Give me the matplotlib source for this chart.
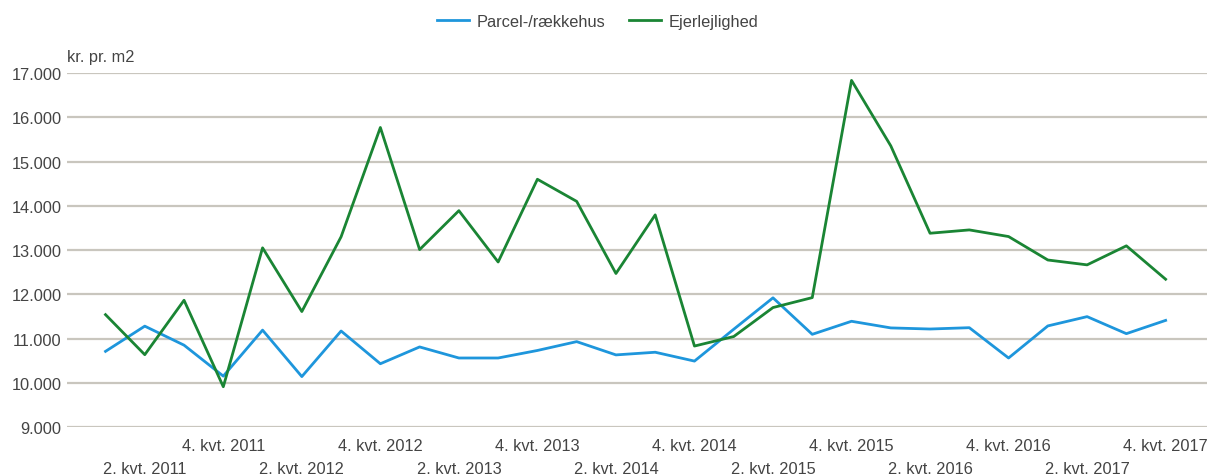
import matplotlib.pyplot as plt
from matplotlib.ticker import FuncFormatter

plt.rcParams['font.family'] = ['Liberation Sans', 'DejaVu Sans']

# kvartaler 1. kvt. 2011 .. 4. kvt. 2017
quarters = ['1. kvt. 2011', '2. kvt. 2011', '3. kvt. 2011', '4. kvt. 2011',
            '1. kvt. 2012', '2. kvt. 2012', '3. kvt. 2012', '4. kvt. 2012',
            '1. kvt. 2013', '2. kvt. 2013', '3. kvt. 2013', '4. kvt. 2013',
            '1. kvt. 2014', '2. kvt. 2014', '3. kvt. 2014', '4. kvt. 2014',
            '1. kvt. 2015', '2. kvt. 2015', '3. kvt. 2015', '4. kvt. 2015',
            '1. kvt. 2016', '2. kvt. 2016', '3. kvt. 2016', '4. kvt. 2016',
            '1. kvt. 2017', '2. kvt. 2017', '3. kvt. 2017', '4. kvt. 2017']

parcel = [10710, 11280, 10850, 10150, 11190, 10140, 11170, 10430,
          10810, 10560, 10560, 10730, 10930, 10630, 10690, 10490,
          11210, 11920, 11095, 11390, 11240, 11215, 11245, 10560,
          11285, 11495, 11110, 11410]

ejer = [11540, 10635, 11865, 9910, 13050, 11610, 13300, 15770,
        13010, 13890, 12730, 14600, 14100, 12470, 13795, 10830,
        11045, 11700, 11925, 16835, 15355, 13380, 13455, 13305,
        12775, 12665, 13095, 12340]

x = list(range(len(quarters)))
fs = 11.8
txt = '#444444'

fig = plt.figure(figsize=(12.1, 4.77), dpi=100)
ax = fig.add_axes([0.0554, 0.1027, 0.942, 0.742])

ax.plot(x, parcel, color='#1E96DC', lw=2.0, label='Parcel-/rækkehus')
ax.plot(x, ejer, color='#1A8534', lw=2.0, label='Ejerlejlighed')

ax.set_xlim(-0.98, 28.05)
ax.set_ylim(9000, 17000)
ax.set_yticks(range(9000, 17001, 1000))
ax.yaxis.set_major_formatter(FuncFormatter(lambda v, p: f'{int(v):,}'.replace(',', '.')))

# 4. kvt. paa oeverste raekke, 2. kvt. paa nederste
upper = [i for i in x if quarters[i].startswith('4.')]
lower = [i for i in x if quarters[i].startswith('2.')]
ax.set_xticks(upper)
ax.set_xticklabels([quarters[i] for i in upper])
ax.set_xticks(lower, minor=True)
ax.set_xticklabels([quarters[i] for i in lower], minor=True)
ax.tick_params(axis='x', which='major', length=0, pad=8, labelsize=fs, labelcolor=txt)
ax.tick_params(axis='x', which='minor', length=0, pad=24.5, labelsize=fs, labelcolor=txt)
ax.tick_params(axis='y', length=0, pad=4, labelsize=fs, labelcolor=txt)

ax.grid(True, axis='y', color='#C9C6BE', lw=1.6)
ax.set_axisbelow(True)
for s in ax.spines.values():
    s.set_visible(False)

ax.text(0.0, 1.025, 'kr. pr. m2', transform=ax.transAxes, fontsize=fs,
        color=txt, va='bottom', ha='left')

fig.legend(loc='upper center', bbox_to_anchor=(0.494, 1.0), ncol=2, frameon=False,
           fontsize=fs, handlelength=1.95, columnspacing=1.4, handletextpad=0.5,
           labelcolor=txt)

fig.savefig('out.png', dpi=100)
